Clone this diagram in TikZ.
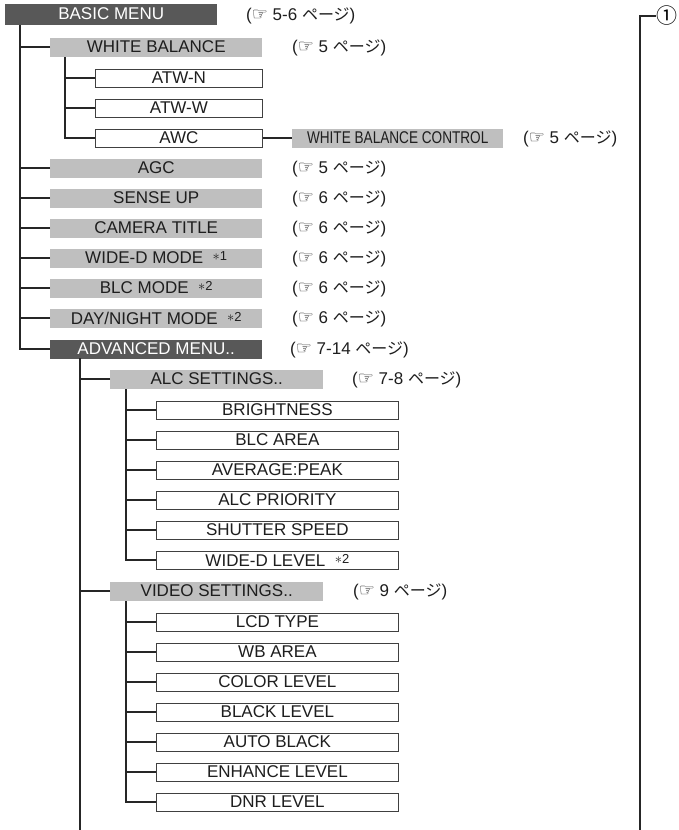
\documentclass[tikz,border=0pt]{standalone}
\usepackage{fontspec}
\setmainfont{Liberation Sans}
\newfontfamily\jpfont{Noto Sans CJK JP}
\newfontfamily\symfont{DejaVu Sans}
\newfontfamily\condfont{Liberation Sans}[FakeStretch=0.8]
\definecolor{menugray}{RGB}{88,88,88}
\definecolor{subgray}{RGB}{191,191,191}
\definecolor{inkgray}{RGB}{30,30,30}
\newcommand{\lbl}{\fontsize{17}{19}\selectfont}
\newcommand{\hand}{\raisebox{0.5pt}{\symfont\fontsize{18}{18}\selectfont ☞}}
\newcommand{\pg}[1]{(\hand\ #1 {\jpfont\fontsize{16}{16}\selectfont ページ})}
\newcommand{\fnmark}[1]{\ \ \raisebox{3pt}{\fontsize{14}{14}\selectfont$\ast$}\raisebox{3pt}{\fontsize{13}{13}\selectfont #1}}
\begin{document}
\begin{tikzpicture}[
        x=1pt, y=-1pt,
        menu/.style={
          fill=menugray,
          text=white,
          anchor=west,
          inner sep=0pt,
          minimum width=212pt,
          minimum height=21pt,
          font=\lbl
        },
        sub/.style={
          fill=subgray,
          text=inkgray,
          anchor=west,
          inner sep=0pt,
          minimum width=212pt,
          minimum height=19pt,
          font=\lbl
        },
        item/.style={
          draw=black!75,
          line width=0.8pt,
          fill=white,
          text=inkgray,
          anchor=west,
          inner sep=0pt,
          minimum width=242pt,
          minimum height=18pt,
          font=\lbl
        },
        page/.style={anchor=west, inner sep=0pt, text=inkgray, font=\lbl},
        link/.style={line width=1.6pt, black!85}
      ]
      \useasboundingbox (0,0) rectangle (678,830);

      % basic menu
      \node[menu] (basic) at (5,14) {BASIC MENU};
      \node[page] (pbasic) at (246,16) {\pg{5-6}};

      \node[sub] (wb) at (50,47) {WHITE BALANCE};
      \node[page] (pwb) at (292,48) {\pg{5}};
      \node[item, minimum width=167pt] (atwn) at (95,78) {ATW-N};
      \node[item, minimum width=167pt] (atww) at (95,108) {ATW-W};
      \node[item, minimum width=167pt] (awc) at (95,138) {AWC};
      \node[sub, minimum width=211pt, font=\condfont\lbl] (wbc) at (292,138) {WHITE BALANCE CONTROL};
      \node[page] (pwbc) at (523,139) {\pg{5}};

      \node[sub] (agc) at (50,168) {AGC};
      \node[page] (pagc) at (292,169) {\pg{5}};
      \node[sub] (sense) at (50,198) {SENSE UP};
      \node[page] (psense) at (292,199) {\pg{6}};
      \node[sub] (title) at (50,228) {CAMERA TITLE};
      \node[page] (ptitle) at (292,229) {\pg{6}};
      \node[sub] (wided) at (50,258) {WIDE-D MODE\fnmark{1}};
      \node[page] (pwided) at (292,259) {\pg{6}};
      \node[sub] (blc) at (50,288) {BLC MODE\fnmark{2}};
      \node[page] (pblc) at (292,289) {\pg{6}};
      \node[sub] (daynight) at (50,318) {DAY/NIGHT MODE\fnmark{2}};
      \node[page] (pdaynight) at (292,319) {\pg{6}};

      % advanced menu
      \node[menu, minimum height=19pt] (adv) at (50,349) {ADVANCED MENU..};
      \node[page] (padv) at (290,350) {\pg{7-14}};

      \node[sub, minimum width=213pt] (alc) at (110,379) {ALC SETTINGS..};
      \node[page] (palc) at (352,380) {\pg{7-8}};
      \node[item] (bright) at (156,410) {BRIGHTNESS};
      \node[item] (blcarea) at (156,440) {BLC AREA};
      \node[item] (avgpeak) at (156,470) {AVERAGE:PEAK};
      \node[item] (alcprio) at (156,500) {ALC PRIORITY};
      \node[item] (shutter) at (156,530) {SHUTTER SPEED};
      \node[item] (widelvl) at (156,560) {WIDE-D LEVEL\fnmark{2}};

      \node[sub, minimum width=213pt] (video) at (110,591) {VIDEO SETTINGS..};
      \node[page] (pvideo) at (353,592) {\pg{9}};
      \node[item] (lcd) at (156,622) {LCD TYPE};
      \node[item] (wbarea) at (156,652) {WB AREA};
      \node[item] (color) at (156,682) {COLOR LEVEL};
      \node[item] (black) at (156,712) {BLACK LEVEL};
      \node[item] (autoblk) at (156,742) {AUTO BLACK};
      \node[item] (enhance) at (156,772) {ENHANCE LEVEL};
      \node[item] (dnr) at (156,802) {DNR LEVEL};

      % continuation mark
      \node[inner sep=0pt, font=\jpfont\fontsize{21}{21}\selectfont] (cont) at (667,16) {①};
      \coordinate (contend) at (640,830);

      % trunks
      \coordinate (t0) at (20,25);
      \coordinate (t1) at (65,57);
      \coordinate (t2) at (80,358);
      \coordinate (t3) at (126,389);
      \coordinate (t4) at (126,601);

      \draw[link] (t0) |- (adv.west);
      \draw[link] (wb.west) -- (wb.west -| t0);
      \draw[link] (agc.west) -- (agc.west -| t0);
      \draw[link] (sense.west) -- (sense.west -| t0);
      \draw[link] (title.west) -- (title.west -| t0);
      \draw[link] (wided.west) -- (wided.west -| t0);
      \draw[link] (blc.west) -- (blc.west -| t0);
      \draw[link] (daynight.west) -- (daynight.west -| t0);

      \draw[link] (t1) |- (awc.west);
      \draw[link] (atwn.west) -- (atwn.west -| t1);
      \draw[link] (atww.west) -- (atww.west -| t1);
      \draw[link] (awc.east) -- (wbc.west);

      \draw[link] (t2) -- (t2 |- contend);
      \draw[link] (alc.west) -- (alc.west -| t2);
      \draw[link] (video.west) -- (video.west -| t2);

      \draw[link] (t3) |- (widelvl.west);
      \draw[link] (bright.west) -- (bright.west -| t3);
      \draw[link] (blcarea.west) -- (blcarea.west -| t3);
      \draw[link] (avgpeak.west) -- (avgpeak.west -| t3);
      \draw[link] (alcprio.west) -- (alcprio.west -| t3);
      \draw[link] (shutter.west) -- (shutter.west -| t3);

      \draw[link] (t4) |- (dnr.west);
      \draw[link] (lcd.west) -- (lcd.west -| t4);
      \draw[link] (wbarea.west) -- (wbarea.west -| t4);
      \draw[link] (color.west) -- (color.west -| t4);
      \draw[link] (black.west) -- (black.west -| t4);
      \draw[link] (autoblk.west) -- (autoblk.west -| t4);
      \draw[link] (enhance.west) -- (enhance.west -| t4);

      \draw[link] (contend) |- (cont.west);
    \end{tikzpicture}
\end{document}
